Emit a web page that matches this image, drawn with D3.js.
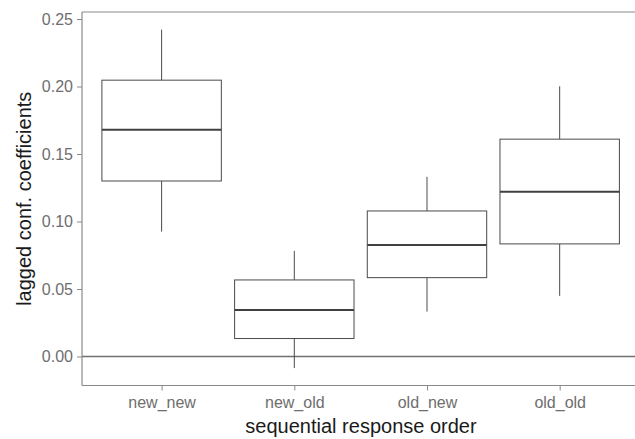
<!DOCTYPE html>
<html>
<head>
<meta charset="utf-8">
<script src="https://cdn.jsdelivr.net/npm/d3@7"></script>
<style>
  html, body { margin: 0; padding: 0; background: #fff; }
  svg { display: block; font-family: "Liberation Sans", Arial, sans-serif; }
</style>
</head>
<body>
<svg id="chart" width="635" height="439"></svg>
<script>
// Sequential response order categories
const categories = ["new_new", "new_old", "old_new", "old_old"];
// Box-plot summaries per category
const whiskerLow  = [0.0925, -0.0086, 0.0333, 0.0449];
const quart1      = [0.1300,  0.0133, 0.0584, 0.0834];
const medians     = [0.1680,  0.0345, 0.0826, 0.1220];
const quart3      = [0.2047,  0.0567, 0.1078, 0.1610];
const whiskerHigh = [0.2421,  0.0782, 0.1331, 0.2002];
// Y axis ticks
const yTicks = [0.00, 0.05, 0.10, 0.15, 0.20, 0.25];

const rows = categories.map((c, i) => ({
  cat: c, lo: whiskerLow[i], q1: quart1[i], med: medians[i], q3: quart3[i], hi: whiskerHigh[i]
}));

const svg = d3.select("#chart");
const padL = 82, padT = 12, padB = 385.5, padR = 639.3;

const x = d3.scalePoint().domain(categories).range([padL, padR]).padding(0.6);
const y = d3.scaleLinear().domain([-0.0215, 0.2552]).range([padB, padT]);
const boxW = x.step() * 0.9;

const axisCol = "#8a8a8a";
const lineCol = "#4a4a4a";

// Zero reference line
svg.append("line")
  .attr("x1", padL).attr("x2", 635)
  .attr("y1", y(0)).attr("y2", y(0))
  .attr("stroke", "#707070").attr("stroke-width", 1.4);

// Boxes
const g = svg.append("g").selectAll("g").data(rows).join("g");
g.append("line")
  .attr("x1", d => x(d.cat)).attr("x2", d => x(d.cat))
  .attr("y1", d => y(d.hi)).attr("y2", d => y(d.q3))
  .attr("stroke", lineCol).attr("stroke-width", 1);
g.append("line")
  .attr("x1", d => x(d.cat)).attr("x2", d => x(d.cat))
  .attr("y1", d => y(d.q1)).attr("y2", d => y(d.lo))
  .attr("stroke", lineCol).attr("stroke-width", 1);
g.append("rect")
  .attr("x", d => x(d.cat) - boxW / 2).attr("width", boxW)
  .attr("y", d => y(d.q3)).attr("height", d => y(d.q1) - y(d.q3))
  .attr("fill", "#fff").attr("stroke", lineCol).attr("stroke-width", 1);
g.append("line")
  .attr("x1", d => x(d.cat) - boxW / 2).attr("x2", d => x(d.cat) + boxW / 2)
  .attr("y1", d => y(d.med)).attr("y2", d => y(d.med))
  .attr("stroke", "#404040").attr("stroke-width", 2);

// Panel frame: top edge
svg.append("line")
  .attr("x1", padL).attr("x2", 635).attr("y1", padT).attr("y2", padT)
  .attr("stroke", axisCol).attr("stroke-width", 1);

// Y axis
const yAxis = svg.append("g")
  .attr("transform", `translate(${padL},0)`)
  .call(d3.axisLeft(y).tickValues(yTicks).tickFormat(d3.format(".2f")).tickSize(5).tickPadding(4))
  .call(s => s.select(".domain").attr("d", `M0,${padT}V${padB}`));
// X axis
const xAxis = svg.append("g")
  .attr("transform", `translate(0,${padB})`)
  .call(d3.axisBottom(x).tickSize(5).tickPadding(6))
  .call(s => s.select(".domain").attr("d", `M${padL},0H635`));

[yAxis, xAxis].forEach(a => {
  a.select(".domain").attr("stroke", axisCol).attr("stroke-width", 1.2);
  a.selectAll(".tick line").attr("stroke", axisCol).attr("stroke-width", 1);
  a.selectAll(".tick text").attr("fill", "#6e6e6e")
    .style("font-size", "16px").style("font-family", "'Liberation Sans', Arial, sans-serif");
});

// Axis titles
svg.append("text")
  .attr("x", 361).attr("y", 433)
  .attr("text-anchor", "middle")
  .attr("fill", "#1a1a1a").style("font-size", "20px")
  .text("sequential response order");
svg.append("text")
  .attr("transform", `translate(31,${(padT + padB) / 2}) rotate(-90)`)
  .attr("text-anchor", "middle")
  .attr("fill", "#1a1a1a").style("font-size", "20px")
  .text("lagged conf. coefficients");
</script>
</body>
</html>
